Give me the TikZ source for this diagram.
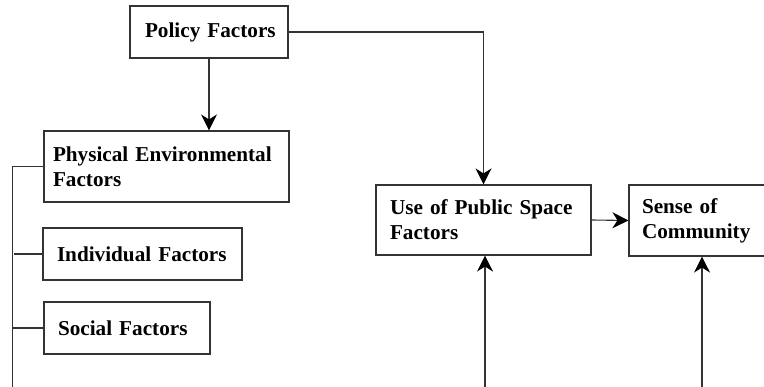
\documentclass[tikz,border=0pt]{standalone}
\usepackage{fontspec}
\setmainfont{Liberation Serif}
\usetikzlibrary{arrows.meta,calc}
\hyphenpenalty=10000
\begin{document}
\begin{tikzpicture}[x=1pt,y=-1pt,
  line width=1.1pt,
  fbox/.style={draw=black!80, line width=1.1pt, fill=white, align=left,
    font=\fontsize{21.2}{25}\selectfont\bfseries, text=black, inner ysep=0pt},
  arr/.style={-{Stealth[length=16pt,width=16pt,inset=5pt,fill=black,color=black]}, draw=black!80},
  ln/.style={draw=black!80}]
\useasboundingbox (0,0) rectangle (764,387);
\node[fbox, minimum width=158pt, minimum height=52pt, inner xsep=9pt, text width=140pt] (policy) at (209,32) {\hspace*{6pt}Policy Factors};
\node[fbox, minimum width=245pt, minimum height=71pt, inner xsep=9pt, text width=227pt] (phys) at (166.5,166.5) {Physical Environmental\\Factors};
\node[fbox, minimum width=199pt, minimum height=52pt, inner xsep=14pt, text width=171pt] (indiv) at (142.5,254) {Individual Factors};
\node[fbox, minimum width=166pt, minimum height=52pt, inner xsep=14pt, text width=138pt] (social) at (127,328) {Social Factors};
\node[fbox, minimum width=215pt, minimum height=70pt, inner xsep=14pt, text width=187pt] (use) at (483.5,220) {Use of Public Space\\Factors};
\node[fbox, minimum width=150pt, minimum height=71pt, inner xsep=13pt, text width=124pt] (sense) at (704,220.5) {Sense of\\Community};
% connectors
\draw[arr] (policy.south) -- (policy.south |- phys.north);
\draw[arr] (policy.east) -| (use.north);
\draw[arr] (use.east) -- (sense.west);
\coordinate (b1) at (485,387);
\coordinate (b2) at (702,387);
\draw[arr] (b1) -- (b1 |- use.south);
\draw[arr] (b2) -- (b2 |- sense.south);
% left bracket
\coordinate (lt) at (12.5,166.5);
\coordinate (lb) at (12.5,387);
\draw[ln] (lb) -- (lt) -- (phys.west);
\draw[ln] (14,254) -- (indiv.west);
\draw[ln] (12.5,328) -- (social.west);
\end{tikzpicture}
\end{document}
